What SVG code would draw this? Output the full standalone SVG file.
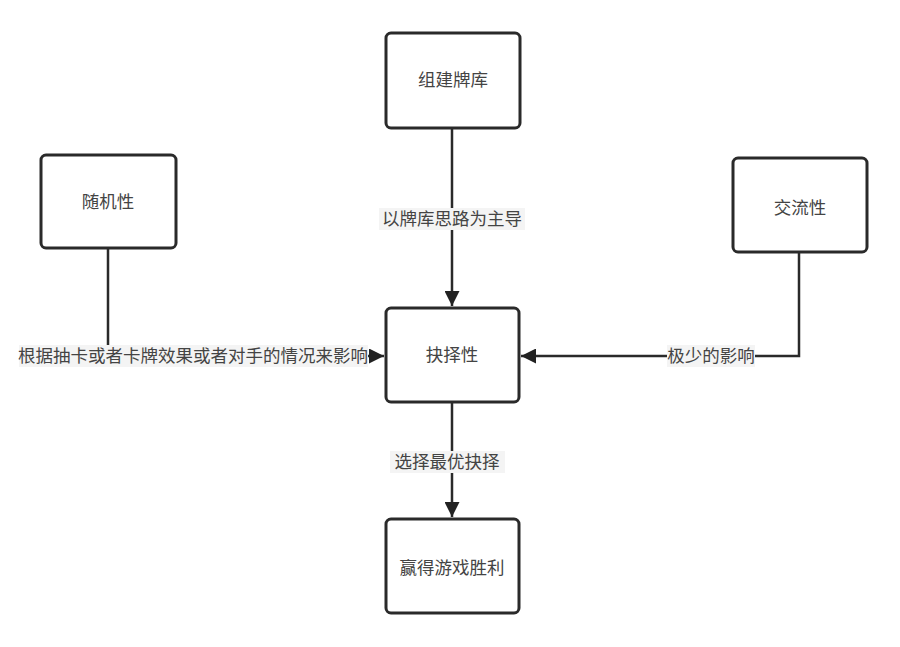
<svg xmlns="http://www.w3.org/2000/svg" width="900" height="647" viewBox="0 0 900 647">
<defs>
<marker id="arr" viewBox="0 0 10 10" refX="10" refY="5" markerWidth="6.5" markerHeight="6" markerUnits="strokeWidth" orient="auto">
<path d="M0,0 L10,5 L0,10 Z" fill="#222"/>
</marker>
</defs>
<style>
.box{fill:#fff;stroke:#2a2a2a;stroke-width:3}
.t{font-family:"Liberation Sans","Noto Sans CJK SC",sans-serif;font-size:17.5px;fill:#444;text-anchor:middle;dominant-baseline:central}
.ln{fill:none;stroke:#2a2a2a;stroke-width:2.5}
.lb{fill:#f4f4f4}
</style>
<rect width="900" height="647" fill="#fff"/>
<g id="connectors">
<path class="ln" d="M452,128 V306" marker-end="url(#arr)"/>
<path class="ln" d="M108,248 V356 H384" marker-end="url(#arr)"/>
<path class="ln" d="M799,252 V356 H521" marker-end="url(#arr)"/>
<path class="ln" d="M452,402 V517" marker-end="url(#arr)"/>
<rect class="lb" x="379" y="208" width="146" height="22"/>
<text class="t" x="452" y="219">以牌库思路为主导</text>
<rect class="lb" x="19" y="345" width="349" height="22"/>
<text class="t" x="193" y="356">根据抽卡或者卡牌效果或者对手的情况来影响</text>
<rect class="lb" x="667" y="345" width="88" height="22"/>
<text class="t" x="711" y="356">极少的影响</text>
<rect class="lb" x="390" y="451" width="115" height="22"/>
<text class="t" x="447" y="462">选择最优抉择</text>
</g>
<g id="n1"><rect class="box" x="386" y="33" width="134" height="95" rx="5"/><text class="t" x="453" y="80">组建牌库</text></g>
<g id="n2"><rect class="box" x="41" y="155" width="135" height="93" rx="5"/><text class="t" x="108" y="202">随机性</text></g>
<g id="n3"><rect class="box" x="733" y="158" width="134" height="94" rx="5"/><text class="t" x="800" y="208">交流性</text></g>
<g id="n4"><rect class="box" x="386" y="308" width="133" height="94" rx="5"/><text class="t" x="452" y="355">抉择性</text></g>
<g id="n5"><rect class="box" x="386" y="519" width="133" height="94" rx="5"/><text class="t" x="452" y="568">赢得游戏胜利</text></g>
</svg>
